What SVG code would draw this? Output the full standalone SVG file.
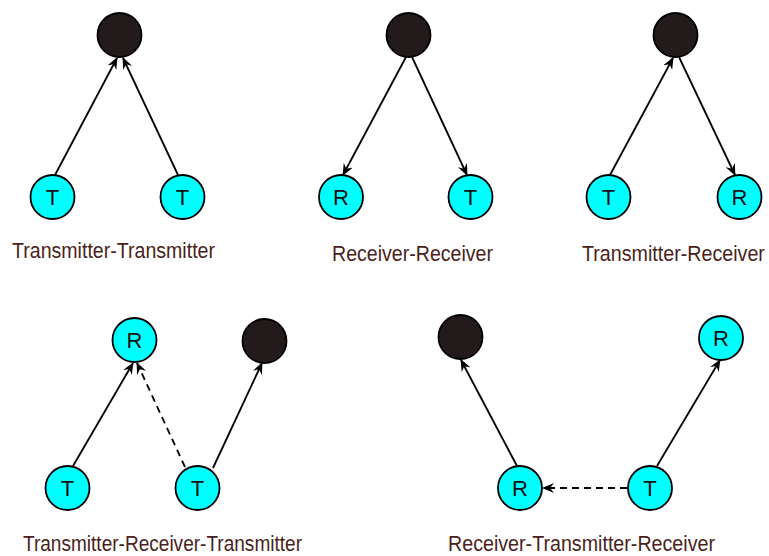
<svg xmlns="http://www.w3.org/2000/svg" width="769" height="556" viewBox="0 0 769 556">
  <style>
    .node { stroke: #000; stroke-width: 1.8; }
    .sta { fill: #00ffff; }
    .ap { fill: #231a1b; }
    .letter { font-family: "Liberation Sans", Arial, sans-serif; font-size: 22px; fill: #111; text-anchor: middle; }
    .label { font-family: "Liberation Sans", Arial, sans-serif; font-size: 22px; fill: #4a1f20; }
    .link { stroke: #000; stroke-width: 1.8; fill: none; marker-end: url(#arrow); }
    .dash { stroke-dasharray: 7 5; }
  </style>
  <defs>
    <marker id="arrow" viewBox="0 0 12 10" refX="11" refY="5" markerWidth="12" markerHeight="10" markerUnits="userSpaceOnUse" orient="auto">
      <path d="M0,0 L12,5 L0,10 L4,5 z" fill="#000"/>
    </marker>
  </defs>

  <!-- connectors -->
  <g id="connectors">
    <!-- Transmitter-Transmitter -->
    <line class="link" x1="55" y1="175" x2="117" y2="58"/>
    <line class="link" x1="178" y1="175" x2="123" y2="58"/>
    <!-- Receiver-Receiver -->
    <line class="link" x1="406" y1="57" x2="343" y2="175"/>
    <line class="link" x1="412" y1="57" x2="467" y2="175"/>
    <!-- Transmitter-Receiver -->
    <line class="link" x1="610" y1="175" x2="673" y2="58"/>
    <line class="link" x1="679" y1="57" x2="735" y2="175"/>
    <!-- Transmitter-Receiver-Transmitter -->
    <line class="link" x1="73" y1="466" x2="133" y2="363"/>
    <line class="link dash" x1="185" y1="467" x2="137" y2="363"/>
    <line class="link" x1="213" y1="468" x2="262" y2="363"/>
    <!-- Receiver-Transmitter-Receiver -->
    <line class="link" x1="517" y1="466" x2="461" y2="360"/>
    <line class="link" x1="657" y1="466" x2="720" y2="360"/>
    <line class="link dash" x1="627" y1="488" x2="543" y2="488"/>
  </g>

  <!-- Transmitter-Transmitter -->
  <g id="tt-ap"><circle class="node ap" cx="119.5" cy="35" r="22"/></g>
  <g id="tt-t1"><circle class="node sta" cx="52.5" cy="197" r="22"/><text class="letter" x="52.5" y="205">T</text></g>
  <g id="tt-t2"><circle class="node sta" cx="182.5" cy="197" r="22"/><text class="letter" x="182.5" y="205">T</text></g>
  <g id="tt-label"><text class="label" x="12" y="258" textLength="203" lengthAdjust="spacingAndGlyphs">Transmitter-Transmitter</text></g>

  <!-- Receiver-Receiver -->
  <g id="rr-ap"><circle class="node ap" cx="408.5" cy="35" r="22"/></g>
  <g id="rr-r"><circle class="node sta" cx="341" cy="197" r="22"/><text class="letter" x="341" y="205">R</text></g>
  <g id="rr-t"><circle class="node sta" cx="470.5" cy="197" r="22"/><text class="letter" x="470.5" y="205">T</text></g>
  <g id="rr-label"><text class="label" x="332" y="261" textLength="161" lengthAdjust="spacingAndGlyphs">Receiver-Receiver</text></g>

  <!-- Transmitter-Receiver (narrowed with a scale so it stays inside the right edge) -->
  <g id="tr-ap"><circle class="node ap" cx="675.5" cy="35" r="22"/></g>
  <g id="tr-t"><circle class="node sta" cx="608.5" cy="197" r="22"/><text class="letter" x="608.5" y="205">T</text></g>
  <g id="tr-r"><circle class="node sta" cx="739.5" cy="197" r="22"/><text class="letter" x="739.5" y="205">R</text></g>
  <g id="tr-label"><text class="label" transform="translate(582 261) scale(0.895 1)" x="0" y="0">Transmitter-Receiver</text></g>

  <!-- Transmitter-Receiver-Transmitter -->
  <g id="trt-r"><circle class="node sta" cx="134.5" cy="340" r="22"/><text class="letter" x="134.5" y="348">R</text></g>
  <g id="trt-ap"><circle class="node ap" cx="264.5" cy="341" r="22"/></g>
  <g id="trt-t1"><circle class="node sta" cx="67.5" cy="488" r="22"/><text class="letter" x="67.5" y="496">T</text></g>
  <g id="trt-t2"><circle class="node sta" cx="197.5" cy="488" r="22"/><text class="letter" x="197.5" y="496">T</text></g>
  <g id="trt-label"><text class="label" x="23" y="551" textLength="279" lengthAdjust="spacingAndGlyphs">Transmitter-Receiver-Transmitter</text></g>

  <!-- Receiver-Transmitter-Receiver -->
  <g id="rtr-ap"><circle class="node ap" cx="460.5" cy="337" r="22"/></g>
  <g id="rtr-r1"><circle class="node sta" cx="721" cy="338" r="22"/><text class="letter" x="721" y="346">R</text></g>
  <g id="rtr-r2"><circle class="node sta" cx="520" cy="488" r="22"/><text class="letter" x="520" y="496">R</text></g>
  <g id="rtr-t"><circle class="node sta" cx="650" cy="488" r="22"/><text class="letter" x="650" y="496">T</text></g>
  <g id="rtr-label"><text class="label" x="448" y="551" textLength="267" lengthAdjust="spacingAndGlyphs">Receiver-Transmitter-Receiver</text></g>
</svg>
